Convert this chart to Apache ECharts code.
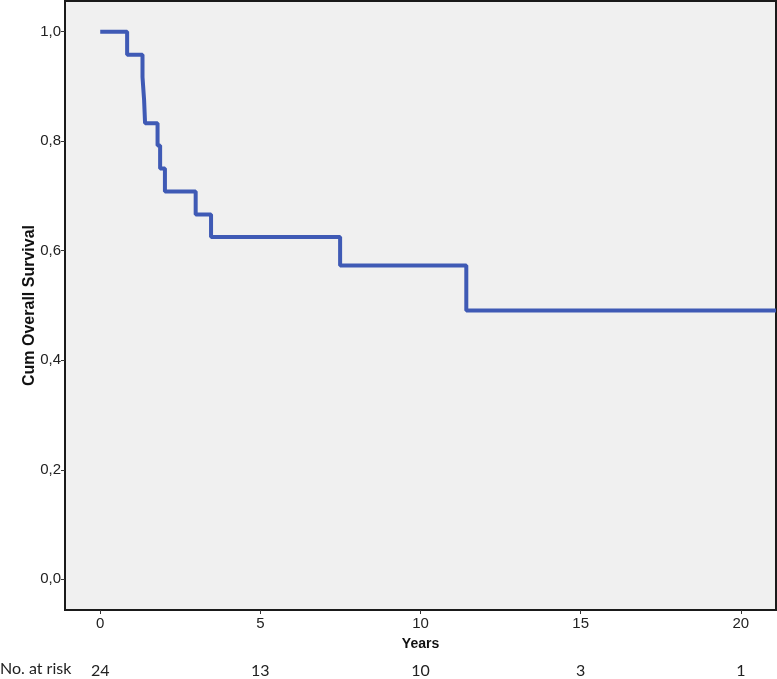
<!DOCTYPE html>
<html>
<head>
<meta charset="utf-8">
<script src="https://cdn.jsdelivr.net/npm/echarts@6/dist/echarts.min.js"></script>
<style>
html,body{margin:0;padding:0;background:#fff;}
#chart{width:777px;height:679px;}
</style>
</head>
<body>
<div id="chart"></div>
<script>
// Kaplan-Meier step points (years, cumulative survival)
const times    = [0, 0.84, 1.32, 1.37, 1.40, 1.79, 1.87, 2.02, 2.98, 3.46, 7.49, 11.43, 21.1];
const survival = [1.0, 0.958, 0.917, 0.875, 0.833, 0.792, 0.750, 0.708, 0.666, 0.625, 0.573, 0.491, 0.491];
const xTicks = [0, 5, 10, 15, 20];
const yTicks = [0, 0.2, 0.4, 0.6, 0.8, 1.0];
const atRisk = [24, 13, 10, 3, 1];

const kmData = times.map((t, i) => [t, survival[i]]);
const riskMap = {};
xTicks.forEach((t, i) => { riskMap[t] = atRisk[i]; });

const chart = echarts.init(document.getElementById('chart'));
chart.setOption({
  animation: false,
  backgroundColor: '#ffffff',
  grid: {
    left: 65, right: 1, top: 1, bottom: 68,
    show: true, backgroundColor: '#f0f0f0', borderColor: '#1a1a1a', borderWidth: 2,
    containLabel: false
  },
  xAxis: [{
    type: 'value', min: -1.1, max: 21.1,
    name: 'Years', nameLocation: 'middle', nameGap: 27,
    nameTextStyle: { fontFamily: 'Liberation Sans', fontWeight: 'bold', fontSize: 14, color: '#111' },
    splitLine: { show: false },
    axisLine: { show: true, onZero: false, lineStyle: { color: '#1a1a1a', width: 2 } },
    axisTick: { show: true, customValues: xTicks, length: 4, lineStyle: { color: '#333' } },
    axisLabel: { customValues: xTicks, fontFamily: 'Liberation Sans', fontSize: 15, color: '#222', margin: 6 }
  }, {
    type: 'value', min: -1.1, max: 21.1, position: 'bottom', offset: 45,
    splitLine: { show: false },
    axisLine: { show: false, onZero: false },
    axisTick: { show: false },
    axisLabel: {
      customValues: xTicks, fontFamily: 'Lato', fontSize: 16, color: '#222',
      formatter: v => String(riskMap[v])
    }
  }],
  yAxis: {
    type: 'value', min: -0.056, max: 1.056,
    name: 'Cum Overall Survival', nameLocation: 'middle', nameGap: 27, nameRotate: 90,
    nameMoveOverlap: false,
    nameTextStyle: { fontFamily: 'Liberation Sans', fontWeight: 'bold', fontSize: 16, color: '#111' },
    splitLine: { show: false },
    axisLine: { show: true, onZero: false, lineStyle: { color: '#1a1a1a', width: 2 } },
    axisTick: { show: true, customValues: yTicks, length: 4, lineStyle: { color: '#333' } },
    axisLabel: {
      customValues: yTicks, fontFamily: 'Liberation Sans', fontSize: 15, color: '#222', margin: 4,
      formatter: v => v.toFixed(1).replace('.', ',')
    }
  },
  graphic: [{
    type: 'text', left: 0, top: 661,
    style: { text: 'No. at risk', font: '16px Lato', fill: '#222' }
  }],
  series: [{
    type: 'line', step: 'end', data: kmData, showSymbol: false, symbol: 'none',
    lineStyle: { color: '#3f5ab5', width: 4 },
    clip: true
  }]
});
</script>
</body>
</html>
